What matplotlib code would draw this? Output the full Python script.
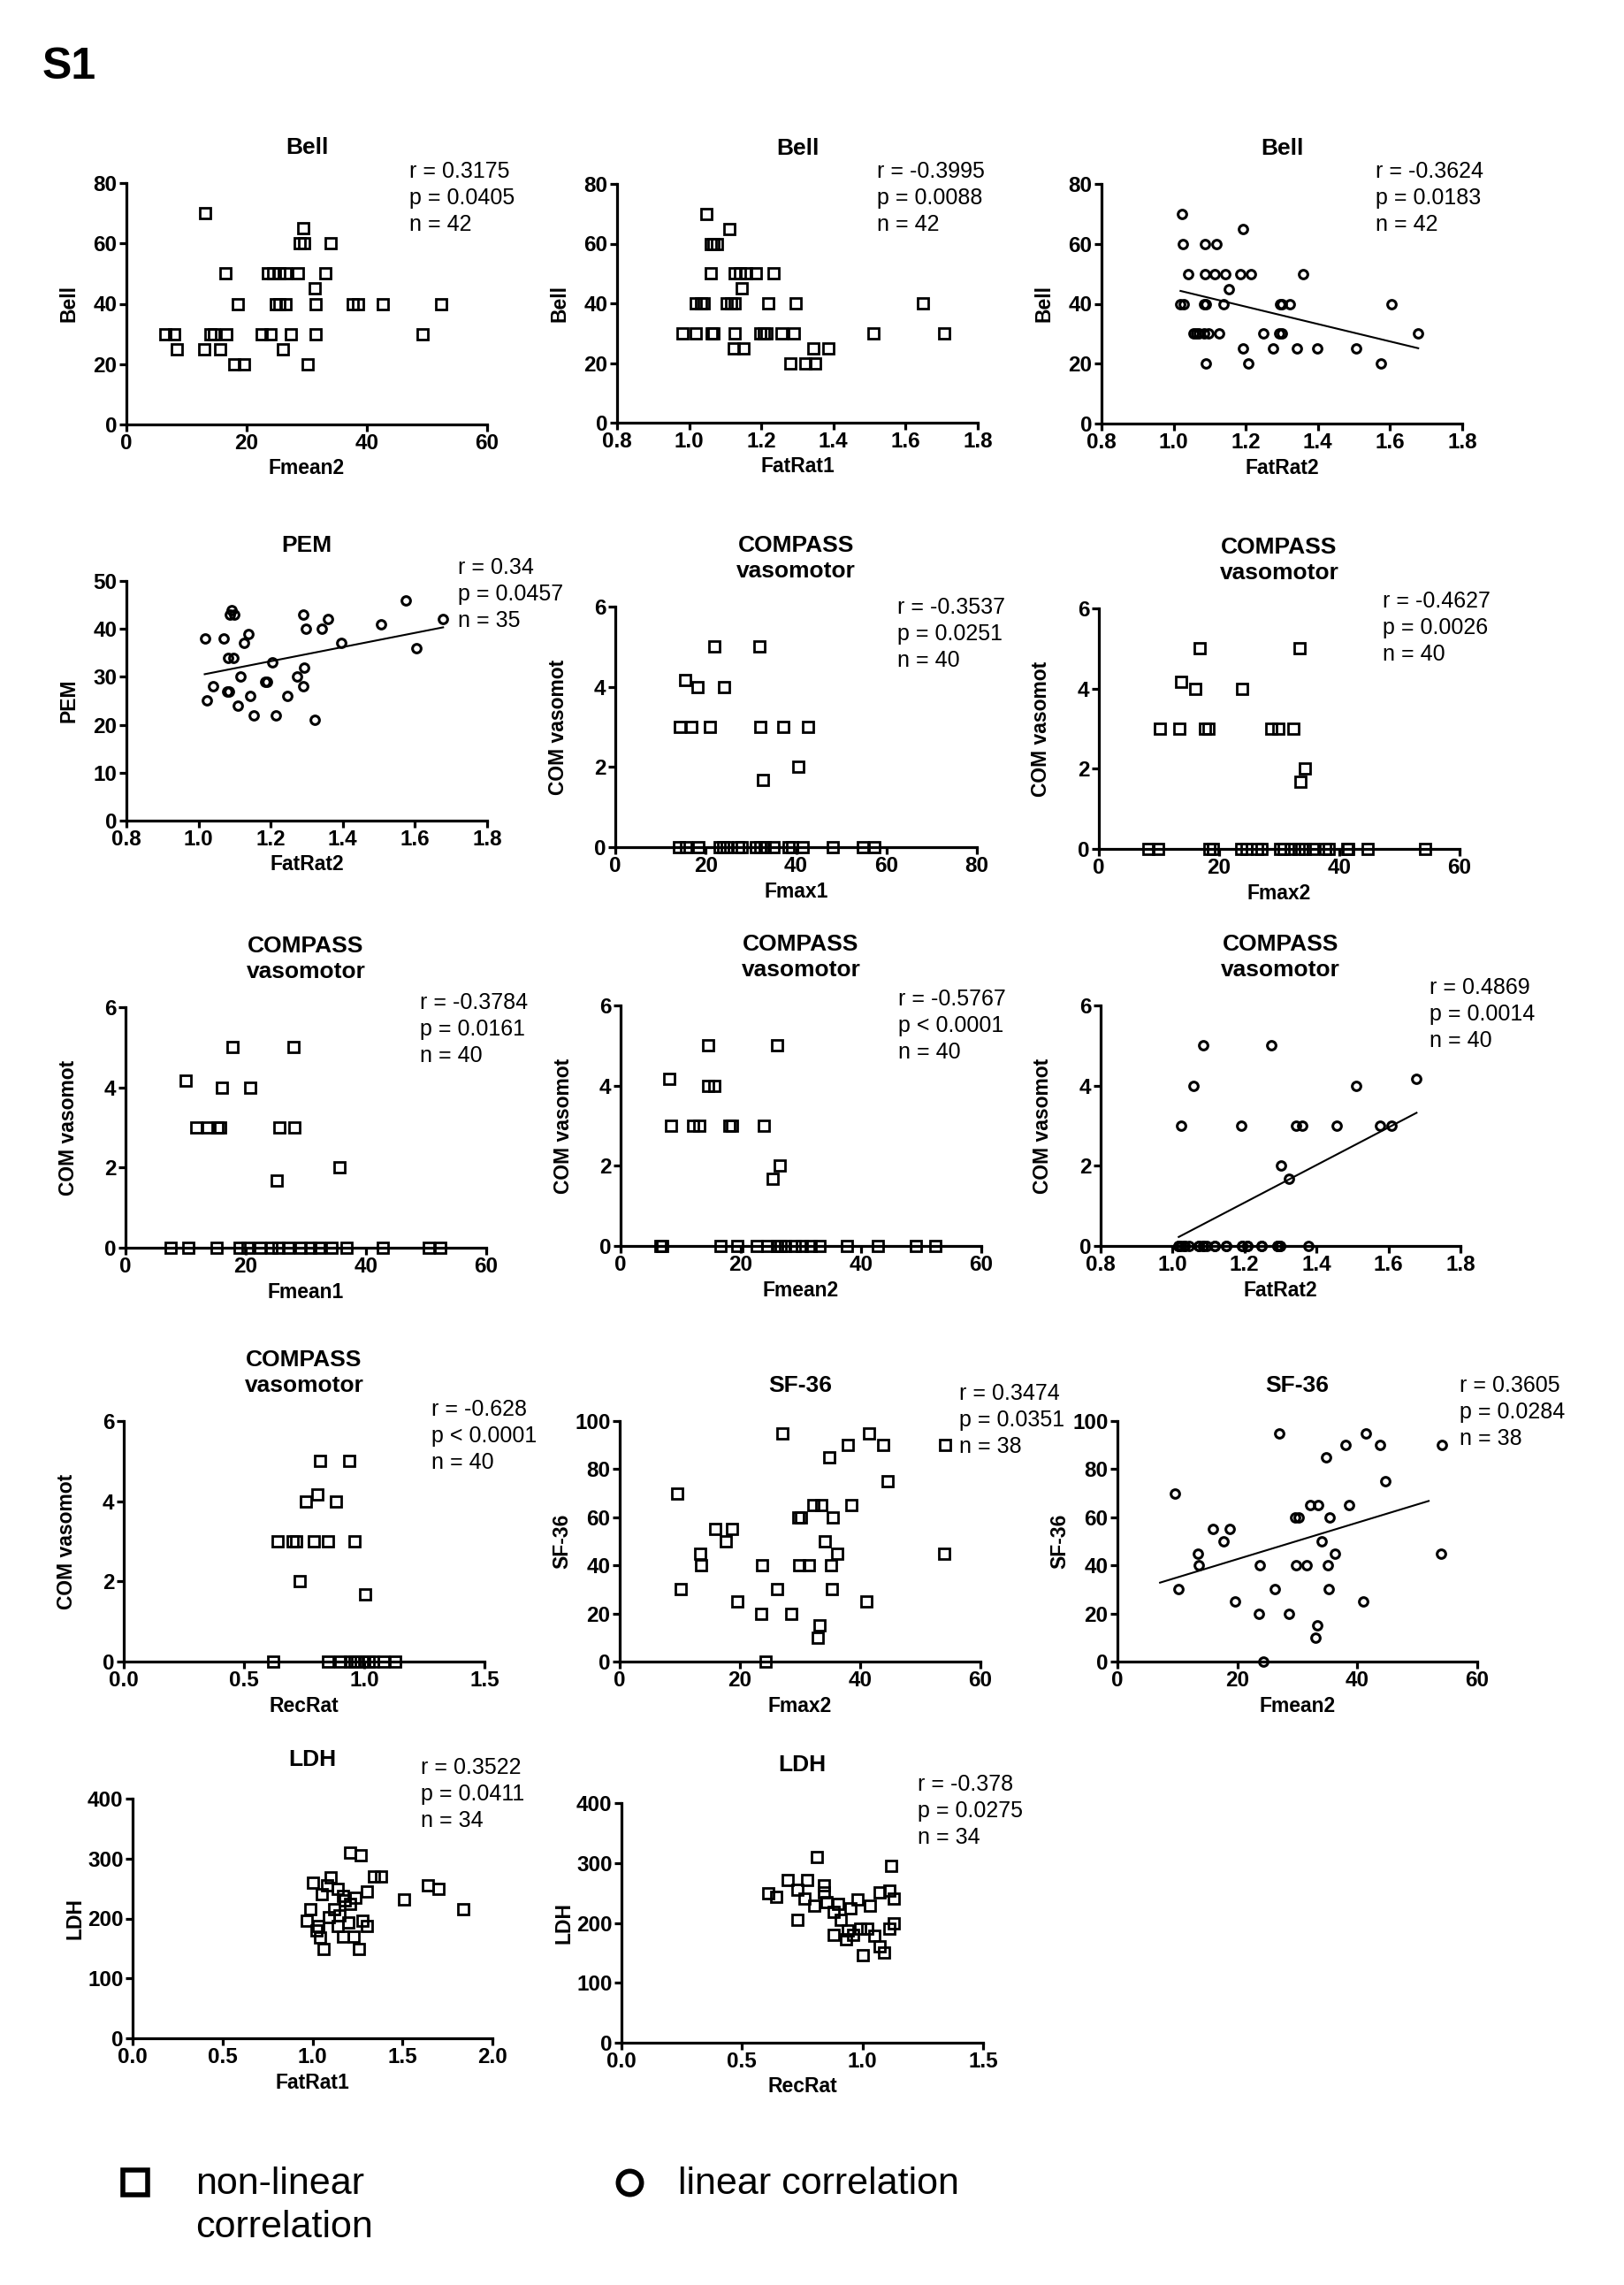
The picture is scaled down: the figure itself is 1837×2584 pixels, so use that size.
import numpy as np
import matplotlib
matplotlib.use("Agg")
import matplotlib.pyplot as plt

plt.rcParams['font.family'] = ['Liberation Sans', 'DejaVu Sans']

# ---- data ----
bell_fmean2_x = [13.1, 29.4, 28.8, 29.6, 34.0, 16.5, 23.5, 24.4, 25.5, 26.4, 28.6, 33.1, 31.3,
                 18.5, 24.8, 25.5, 26.4, 31.4, 37.7, 38.6, 42.7, 52.4,
                 6.5, 8.0, 14.0, 14.6, 16.6, 22.5, 23.9, 27.3, 31.4, 49.2,
                 8.4, 13.0, 15.6, 26.0, 18.0, 19.6, 30.2]
bell_fmean2_y = [70, 65, 60, 60, 60, 50, 50, 50, 50, 50, 50, 50, 45,
                 40, 40, 40, 40, 40, 40, 40, 40, 40,
                 30, 30, 30, 30, 30, 30, 30, 30, 30, 30,
                 25, 25, 25, 25, 20, 20, 20]

bell_fatrat1_x = [1.048, 1.111, 1.061, 1.068, 1.076,
                  1.061, 1.126, 1.141, 1.157, 1.185, 1.233, 1.146,
                  1.019, 1.032, 1.041, 1.104, 1.117, 1.126, 1.220, 1.294, 1.647,
                  0.982, 1.019, 1.063, 1.068, 1.126, 1.197, 1.207, 1.214, 1.256, 1.290, 1.510, 1.706,
                  1.124, 1.150, 1.343, 1.387, 1.281, 1.321, 1.348]
bell_fatrat1_y = [70, 65, 60, 60, 60,
                  50, 50, 50, 50, 50, 50, 45,
                  40, 40, 40, 40, 40, 40, 40, 40, 40,
                  30, 30, 30, 30, 30, 30, 30, 30, 30, 30, 30, 30,
                  25, 25, 25, 25, 20, 20, 20]

bell_fatrat2_x = [1.023, 1.191, 1.025, 1.087, 1.118,
                  1.039, 1.087, 1.113, 1.143, 1.185, 1.214, 1.358, 1.154,
                  1.019, 1.028, 1.084, 1.089, 1.139, 1.294, 1.300, 1.323, 1.605,
                  1.054, 1.063, 1.070, 1.084, 1.096, 1.126, 1.248, 1.293, 1.299, 1.678,
                  1.192, 1.275, 1.342, 1.397, 1.507, 1.090, 1.207, 1.574]
bell_fatrat2_y = [70, 65, 60, 60, 60,
                  50, 50, 50, 50, 50, 50, 50, 45,
                  40, 40, 40, 40, 40, 40, 40, 40, 40,
                  30, 30, 30, 30, 30, 30, 30, 30, 30, 30,
                  25, 25, 25, 25, 25, 20, 20, 20]

pem_fatrat2_x = [1.575, 1.092, 1.086, 1.098, 1.291, 1.359, 1.678, 1.506, 1.298, 1.342, 1.138,
                 1.017, 1.070, 1.125, 1.396, 1.605, 1.082, 1.096, 1.204, 1.292, 1.115, 1.272,
                 1.186, 1.189, 1.039, 1.289, 1.080, 1.084, 1.143, 1.246, 1.023, 1.110, 1.152,
                 1.213, 1.321]
pem_fatrat2_y = [46, 44, 43, 43, 43, 42, 42, 41, 40, 40, 39, 38, 38, 37, 37, 36, 34, 34, 33, 32,
                 30, 30, 29, 29, 28, 28, 27, 27, 26, 26, 25, 24, 22, 22, 21]

com_fmax1_x = [21.9, 31.8, 15.5, 18.2, 24.1, 14.3, 16.8, 21.0, 32.1, 37.2, 42.6, 40.5, 32.7,
               14.0, 15.7, 18.4, 23.1, 23.8, 24.7, 27.1, 28.0, 31.1, 32.0, 33.1, 35.1,
               38.4, 39.1, 41.4, 48.1, 54.7, 57.3]
com_fmax1_y = [5, 5, 4.17, 4, 4, 3, 3, 3, 3, 3, 3, 2, 1.67] + [0] * 18

com_fmax2_x = [16.7, 33.4, 13.7, 16.0, 23.8, 10.1, 13.4, 17.6, 18.2, 28.7, 29.8, 32.3, 34.3, 33.6,
               8.3, 9.8, 18.4, 19.0, 23.7, 24.5, 26.3, 27.1, 30.1, 30.8, 31.9, 33.2, 34.3,
               35.6, 37.7, 38.2, 41.3, 41.5, 44.7, 54.2]
com_fmax2_y = [5, 5, 4.17, 4, 4, 3, 3, 3, 3, 3, 3, 3, 2, 1.67] + [0] * 20

com_fmean1_x = [17.8, 27.9, 10.0, 16.1, 20.8, 11.8, 13.7, 15.3, 15.8, 25.6, 28.1, 35.6, 25.1,
                7.5, 10.5, 15.1, 18.9, 20.3, 22.4, 24.2, 25.5, 27.1, 29.1, 30.7, 32.2,
                34.3, 36.8, 42.8, 50.4, 52.4]
com_fmean1_y = [5, 5, 4.17, 4, 4, 3, 3, 3, 3, 3, 3, 2, 1.67] + [0] * 17

com_fmean2_x = [14.6, 26.1, 8.1, 14.5, 15.6, 8.4, 12.1, 13.1, 18.1, 18.6, 23.8, 26.4, 25.3,
                6.6, 6.9, 16.6, 19.4, 22.6, 24.4, 26.0, 26.6, 27.4, 29.0, 30.2, 31.6,
                33.1, 37.7, 42.8, 49.1, 52.4]
com_fmean2_y = [5, 5, 4.17, 4, 4, 3, 3, 3, 3, 3, 3, 2, 1.67] + [0] * 17

# zero row holds overlapping circles (n = 40)
com_fatrat2_x = [1.085, 1.274, 1.678, 1.059, 1.509, 1.024, 1.191, 1.343, 1.359, 1.457, 1.577,
                 1.608, 1.300, 1.323,
                 1.017, 1.034, 1.072, 1.085, 1.117, 1.150, 1.194, 1.209, 1.248, 1.292, 1.298, 1.378,
                 1.017, 1.024, 1.034, 1.045, 1.072, 1.085, 1.095, 1.117, 1.150, 1.194, 1.209,
                 1.248, 1.292, 1.298]
com_fatrat2_y = [5, 5, 4.17, 4, 4, 3, 3, 3, 3, 3, 3, 3, 2, 1.67] + [0] * 26

com_recrat_x = [0.815, 0.936, 0.806, 0.756, 0.884, 0.641, 0.703, 0.716, 0.792, 0.848, 0.959,
                0.733, 1.005,
                0.620, 0.850, 0.900, 0.940, 0.959, 0.972, 0.999, 1.018, 1.038, 1.081, 1.130]
com_recrat_y = [5, 5, 4.17, 4, 4, 3, 3, 3, 3, 3, 3, 2, 1.67] + [0] * 11

sf36_x = [27.0, 41.4, 38.0, 43.8, 54.1, 34.8, 44.6, 9.6, 32.2, 33.5, 38.6, 29.7, 30.2, 35.4,
          15.9, 18.7, 17.7, 34.1, 13.4, 36.2, 54.0, 13.5, 23.7, 29.8, 31.5, 35.1, 10.1, 26.2,
          35.3, 19.6, 41.0, 23.6, 28.6, 33.3, 33.0, 24.3]
sf36_y = [95, 95, 90, 90, 90, 85, 75, 70, 65, 65, 65, 60, 60, 60, 55, 55, 50, 50, 45, 45, 45,
          40, 40, 40, 40, 40, 30, 30, 30, 25, 25, 20, 20, 15, 10, 0]
sf36_fit_range = [7.1, 51.9]

ldh_fatrat1_x = [1.21, 1.27, 1.10, 1.00, 1.14, 1.34, 1.38, 1.30, 1.51, 1.64, 1.70, 1.84, 1.05,
                 1.17, 1.21, 0.97, 1.03, 1.09, 1.14, 1.20, 1.28, 1.30, 1.04, 1.17, 1.23, 1.06,
                 1.26, 1.12, 1.18, 1.08, 1.24, 1.15, 0.99, 1.02]
ldh_fatrat1_y = [310, 305, 268, 260, 250, 270, 270, 245, 232, 256, 250, 215, 240,
                 237, 225, 197, 188, 202, 188, 193, 197, 188, 168, 170, 170, 149,
                 149, 215, 230, 255, 235, 205, 215, 180]

ldh_recrat_x = [0.81, 0.61, 0.64, 0.69, 0.73, 0.77, 0.84, 0.73, 0.85, 0.88, 0.91, 0.94, 0.96,
                0.99, 0.88, 0.93, 1.03, 1.07, 1.11, 1.12, 1.13, 1.05, 1.07, 1.09, 1.00, 1.11,
                1.02, 0.80, 0.84, 0.90, 0.98, 0.76, 1.13, 0.95]
ldh_recrat_y = [310, 249, 244, 271, 256, 271, 263, 205, 234, 219, 205, 188, 180,
                190, 180, 173, 229, 251, 254, 295, 241, 178, 161, 151, 146, 190,
                190, 229, 251, 232, 239, 240, 200, 225]

W, H = 1837, 2584
COMPASS = "COMPASS\nvasomotor"
rat = [0.8, 1.0, 1.2, 1.4, 1.6, 1.8]

panels = [
    dict(box=(143, 551, 207, 480), x=bell_fmean2_x, y=bell_fmean2_y, m='s', title="Bell", xl="Fmean2", yl="Bell",
         xt=[0, 20, 40, 60], yt=[0, 20, 40, 60, 80], st=["r = 0.3175", "p = 0.0405", "n = 42"], sp=(0.784, 1.048)),
    dict(box=(698, 1106, 208, 478), x=bell_fatrat1_x, y=bell_fatrat1_y, m='s', title="Bell", xl="FatRat1", yl="Bell",
         xt=rat, yt=[0, 20, 40, 60, 80], st=["r = -0.3995", "p = 0.0088", "n = 42"], sp=(0.72, 1.053)),
    dict(box=(1246, 1654, 208, 479), x=bell_fatrat2_x, y=bell_fatrat2_y, m='o', title="Bell", xl="FatRat2", yl="Bell",
         xt=rat, yt=[0, 20, 40, 60, 80], st=["r = -0.3624", "p = 0.0183", "n = 42"], sp=(0.76, 1.05), fit=True),
    dict(box=(143, 551, 657, 928), x=pem_fatrat2_x, y=pem_fatrat2_y, m='o', title="PEM", xl="FatRat2", yl="PEM",
         xt=rat, yt=[0, 10, 20, 30, 40, 50], st=["r = 0.34", "p = 0.0457", "n = 35"], sp=(0.92, 1.055), fit=True),
    dict(box=(696, 1105, 686, 958), x=com_fmax1_x, y=com_fmax1_y, m='s', title=COMPASS, xl="Fmax1", yl="COM vasomot",
         xt=[0, 20, 40, 60, 80], yt=[0, 2, 4, 6], st=["r = -0.3537", "p = 0.0251", "n = 40"], sp=(0.78, 0.997)),
    dict(box=(1243, 1651, 688, 960), x=com_fmax2_x, y=com_fmax2_y, m='s', title=COMPASS, xl="Fmax2", yl="COM vasomot",
         xt=[0, 20, 40, 60], yt=[0, 2, 4, 6], st=["r = -0.4627", "p = 0.0026", "n = 40"], sp=(0.787, 1.03)),
    dict(box=(142, 550, 1139, 1411), x=com_fmean1_x, y=com_fmean1_y, m='s', title=COMPASS, xl="Fmean1", yl="COM vasomot",
         xt=[0, 20, 40, 60], yt=[0, 2, 4, 6], st=["r = -0.3784", "p = 0.0161", "n = 40"], sp=(0.816, 1.02)),
    dict(box=(702, 1110, 1137, 1409), x=com_fmean2_x, y=com_fmean2_y, m='s', title=COMPASS, xl="Fmean2", yl="COM vasomot",
         xt=[0, 20, 40, 60], yt=[0, 2, 4, 6], st=["r = -0.5767", "p < 0.0001", "n = 40"], sp=(0.77, 1.025)),
    dict(box=(1245, 1652, 1137, 1409), x=com_fatrat2_x, y=com_fatrat2_y, m='o', title=COMPASS, xl="FatRat2", yl="COM vasomot",
         xt=rat, yt=[0, 2, 4, 6], st=["r = 0.4869", "p = 0.0014", "n = 40"], sp=(0.914, 1.072), fit=True),
    dict(box=(140, 548, 1607, 1879), x=com_recrat_x, y=com_recrat_y, m='s', title=COMPASS, xl="RecRat", yl="COM vasomot",
         xt=[0.0, 0.5, 1.0, 1.5], yt=[0, 2, 4, 6], st=["r = -0.628", "p < 0.0001", "n = 40"], sp=(0.853, 1.048)),
    dict(box=(701, 1109, 1607, 1879), x=sf36_x, y=sf36_y, m='s', title="SF-36", xl="Fmax2", yl="SF-36",
         xt=[0, 20, 40, 60], yt=[0, 20, 40, 60, 80, 100], st=["r = 0.3474", "p = 0.0351", "n = 38"], sp=(0.94, 1.114)),
    dict(box=(1264, 1671, 1607, 1879), x=sf36_x, y=sf36_y, m='o', title="SF-36", xl="Fmean2", yl="SF-36",
         xt=[0, 20, 40, 60], yt=[0, 20, 40, 60, 80, 100], st=["r = 0.3605", "p = 0.0284", "n = 38"], sp=(0.952, 1.147),
         fit=True, fitx=sf36_fit_range),
    dict(box=(150, 557, 2034, 2305), x=ldh_fatrat1_x, y=ldh_fatrat1_y, m='s', title="LDH", xl="FatRat1", yl="LDH",
         xt=[0.0, 0.5, 1.0, 1.5, 2.0], yt=[0, 100, 200, 300, 400], st=["r = 0.3522", "p = 0.0411", "n = 34"], sp=(0.80, 1.128),
         ty=1.164),
    dict(box=(703, 1112, 2039, 2310), x=ldh_recrat_x, y=ldh_recrat_y, m='s', title="LDH", xl="RecRat", yl="LDH",
         xt=[0.0, 0.5, 1.0, 1.5], yt=[0, 100, 200, 300, 400], st=["r = -0.378", "p = 0.0275", "n = 34"], sp=(0.82, 1.079),
         ty=1.158),
]

fig = plt.figure(figsize=(W / 100, H / 100), dpi=100)

for p in panels:
    x0, x1, yt_, yb_ = p['box']
    wpx, hpx = x1 - x0, yb_ - yt_
    ax = fig.add_axes([x0 / W, 1 - yb_ / H, wpx / W, hpx / H])
    x = np.array(p['x']); y = np.array(p['y'])
    if p['m'] == 's':
        ms, mew = 8.5, 2.0
    else:
        ms, mew = 7, 2.2
    ax.plot(x, y, ls='none', marker=p['m'], ms=ms, mfc='none', mec='black', mew=mew,
            clip_on=False, zorder=5)
    if p.get('fit'):
        a, b = np.polyfit(x, y, 1)
        fx = np.array(p.get('fitx', [x.min(), x.max()]))
        ax.plot(fx, a * fx + b, color='black', lw=1.5, zorder=4)
    ax.set_xlim(p['xt'][0], p['xt'][-1]); ax.set_ylim(p['yt'][0], p['yt'][-1])
    ax.set_xticks(p['xt']); ax.set_yticks(p['yt'])
    if isinstance(p['xt'][1], float):
        ax.set_xticklabels(["%.1f" % v for v in p['xt']])
    for s in ['top', 'right']:
        ax.spines[s].set_visible(False)
    for s in ['left', 'bottom']:
        ax.spines[s].set_linewidth(2.3)
    ax.tick_params(width=2.3, length=5.5, labelsize=17.5, pad=2)
    for lab in ax.get_xticklabels() + ax.get_yticklabels():
        lab.set_fontweight('bold')
    ax.set_xlabel(p['xl'], fontsize=16.5, fontweight='bold')
    ax.xaxis.set_label_coords(0.5, -50 / hpx)
    ax.xaxis.label.set_va('center')
    ax.set_ylabel(p['yl'], fontsize=16.5, fontweight='bold')
    ax.yaxis.set_label_coords(-65 / wpx, 0.5)
    ax.yaxis.label.set_va('center')
    ty = p.get('ty', 1.20 if '\n' in p['title'] else 1.148)
    ax.text(0.5, ty, p['title'], transform=ax.transAxes, ha='center', va='center',
            fontsize=19, fontweight='bold', linespacing=1.3)
    sx, sy = p['sp']
    for i, line in enumerate(p['st']):
        ax.text(sx, sy - i * 30 / hpx, line, transform=ax.transAxes, ha='left', va='center',
                fontsize=18)

fig.text(48 / W, 1 - 76 / H, "S1", fontsize=36, fontweight='bold', ha='left', va='center')

# legend
leg = fig.add_axes([0, 0, 1, 1], facecolor='none')
leg.set_xlim(0, W); leg.set_ylim(H, 0); leg.axis('off')
leg.plot([153], [2468], ls='none', marker='s', ms=20, mfc='none', mec='black', mew=4)
leg.plot([712], [2468], ls='none', marker='o', ms=19, mfc='none', mec='black', mew=4)
leg.text(221, 2470, "non-linear", fontsize=31, ha='left', va='center')
leg.text(221, 2519, "correlation", fontsize=31, ha='left', va='center')
leg.text(767, 2470, "linear correlation", fontsize=31, ha='left', va='center')

fig.savefig("out.png", dpi=100, facecolor='white')
